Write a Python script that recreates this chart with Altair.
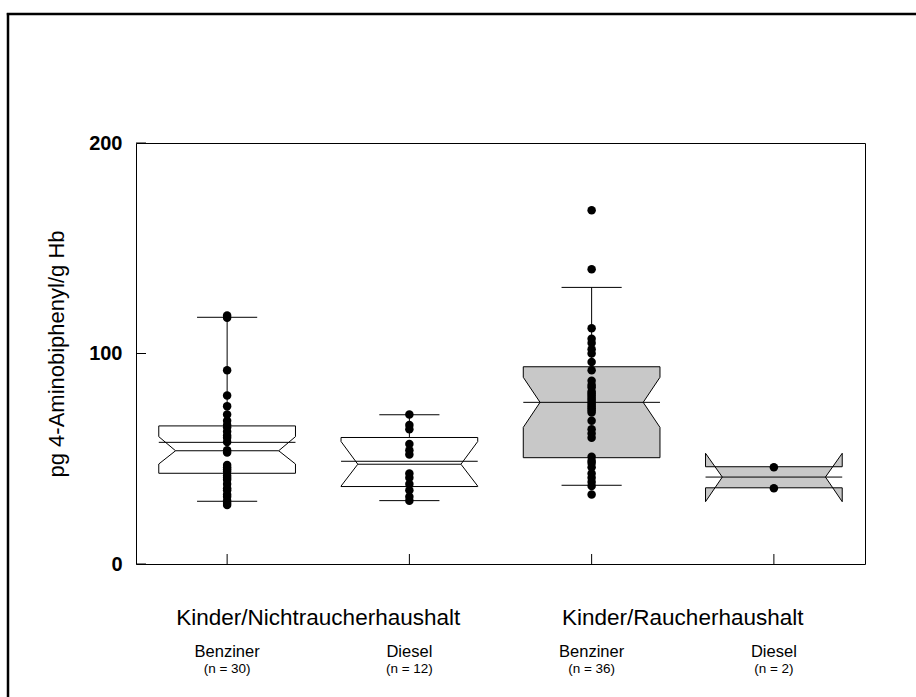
import altair as alt
import pandas as pd

# ---------------- data ----------------
categories = ["Benziner", "Diesel", "Benziner", "Diesel"]
n_labels = ["(n = 30)", "(n = 12)", "(n = 36)", "(n = 2)"]
households = ["Kinder/Nichtraucherhaushalt", "Kinder/Nichtraucherhaushalt",
              "Kinder/Raucherhaushalt", "Kinder/Raucherhaushalt"]
smoker = [False, False, True, True]

q1 = [43.1, 36.8, 50.5, 36.2]
median = [53.8, 47.4, 76.8, 41.3]
q3 = [65.6, 60.1, 93.7, 46.2]
mean = [57.8, 48.8, 76.8, 41.3]
notch_lo = [47.5, 37.0, 64.9, 29.6]
notch_hi = [60.5, 58.2, 88.7, 52.6]
whisker_lo = [29.8, 30.1, 37.4, None]
whisker_hi = [117.2, 70.9, 131.4, None]

vals_nr_benziner = [118, 117, 92, 80, 75, 71, 68, 66, 65, 63, 61, 60, 58, 54, 53,
                    47, 46, 45, 44, 42, 41, 40, 38, 36, 35, 33, 32, 30, 29, 28]
vals_nr_diesel = [71, 66, 64, 57, 54, 52, 43, 41, 38, 35, 32, 30]
vals_r_benziner = [168, 140, 112, 107, 105, 102, 100, 96, 92, 87, 85, 84, 82, 81,
                   80, 79, 78, 77, 76, 75, 74, 73, 72, 68, 64, 62, 60, 51, 49, 48,
                   46, 43, 41, 39, 37, 33]
vals_r_diesel = [46, 36]

y_ticks = [0, 100, 200]
y_title = "pg 4-Aminobiphenyl/g Hb"

# ---------------- style ----------------
FONT = "Liberation Sans"
HALF = 0.375   # half box width (in category units)
NOTCH = 0.092  # notch indent
CAP = 0.165    # whisker cap half width
W, H = 729, 421

positions = [i + 1 for i in range(4)]
all_vals = [vals_nr_benziner, vals_nr_diesel, vals_r_benziner, vals_r_diesel]

# notched box polygons
poly_rows = []
for i, p in enumerate(positions):
    L, R = p - HALF, p + HALF
    pts = [(L, q3[i]), (L, notch_hi[i]), (L + NOTCH, median[i]), (L, notch_lo[i]),
           (L, q1[i]), (R, q1[i]), (R, notch_lo[i]), (R - NOTCH, median[i]),
           (R, notch_hi[i]), (R, q3[i]), (L, q3[i])]
    for k, (x, y) in enumerate(pts):
        poly_rows.append({"box": i, "k": k, "x": x, "y": y, "shaded": smoker[i]})
poly = pd.DataFrame(poly_rows)

# horizontal segments: mean lines, median lines, whisker caps
seg_rows = []
vseg_rows = []
for i, p in enumerate(positions):
    seg_rows.append({"x": p - HALF, "x2": p + HALF, "y": mean[i]})
    if abs(mean[i] - median[i]) > 0.05:
        seg_rows.append({"x": p - HALF + NOTCH, "x2": p + HALF - NOTCH, "y": median[i]})
    if whisker_hi[i] is not None:
        seg_rows.append({"x": p - CAP, "x2": p + CAP, "y": whisker_hi[i]})
        seg_rows.append({"x": p - CAP, "x2": p + CAP, "y": whisker_lo[i]})
        vseg_rows.append({"x": p, "y": q3[i], "y2": whisker_hi[i]})
        vseg_rows.append({"x": p, "y": q1[i], "y2": whisker_lo[i]})
segs = pd.DataFrame(seg_rows)
vsegs = pd.DataFrame(vseg_rows)

pts = pd.DataFrame([{"x": positions[i], "y": v} for i in range(4) for v in all_vals[i]])

cat_df = pd.DataFrame({"x": positions, "cat": categories, "n": n_labels})
hh_df = (pd.DataFrame({"x": positions, "hh": households})
         .groupby("hh", as_index=False)["x"].mean())
ytick_df = pd.DataFrame({"y": y_ticks})

xscale = alt.Scale(domain=[0.5, 4.5], nice=False, zero=False)
yscale = alt.Scale(domain=[0, 200], nice=False, zero=False)
xaxis = alt.Axis(labels=False, ticks=False, domain=False, grid=False, title=None)
yaxis = alt.Axis(values=y_ticks, labels=True, ticks=False, domain=False, grid=False,
                 title=y_title, labelFont=FONT, labelFontSize=20, labelFontWeight="bold",
                 labelColor="black", labelPadding=14,
                 titleFont=FONT, titleFontSize=22, titleFontWeight="normal", titleColor="black",
                 titleAngle=270, titleX=-80, titleY=H / 2, titleAlign="center",
                 titleBaseline="middle")


def X(f="x"):
    return alt.X(f, type="quantitative", scale=xscale, axis=xaxis)


def Y(f="y"):
    return alt.Y(f, type="quantitative", scale=yscale, axis=yaxis)


whisk_v = alt.Chart(vsegs).mark_rule(color="black", strokeWidth=1).encode(
    x=X(), y=Y(), y2="y2")

box_white = alt.Chart(poly).transform_filter("!datum.shaded").mark_line(
    fill="white", stroke="black", strokeWidth=1).encode(
    x=X(), y=Y(), detail="box:N", order="k:Q")
box_gray = alt.Chart(poly).transform_filter("datum.shaded").mark_line(
    fill="#c8c8c8", stroke="black", strokeWidth=1).encode(
    x=X(), y=Y(), detail="box:N", order="k:Q")

hsegs = alt.Chart(segs).mark_rule(color="black", strokeWidth=1).encode(
    x=X(), x2="x2", y=Y())

dots = alt.Chart(pts).mark_circle(color="black", opacity=1, size=72).encode(
    x=X(), y=Y())

yt = alt.Chart(ytick_df).mark_rule(color="black", strokeWidth=1).encode(
    y=Y(), x=alt.value(0), x2=alt.value(10))
xt = alt.Chart(cat_df).mark_rule(color="black", strokeWidth=1).encode(
    x=X(), y=alt.value(H), y2=alt.value(H - 10))

hh_text = alt.Chart(hh_df).mark_text(font=FONT, fontSize=22.5, color="black",
                                     align="center", baseline="middle").encode(
    x=X(), y=alt.value(475), text="hh:N")
cat_text = alt.Chart(cat_df).mark_text(font=FONT, fontSize=16.5, color="black",
                                       align="center", baseline="middle").encode(
    x=X(), y=alt.value(509), text="cat:N")
n_text = alt.Chart(cat_df).mark_text(font=FONT, fontSize=13.5, color="black",
                                     align="center", baseline="middle").encode(
    x=X(), y=alt.value(526), text="n:N")

one = pd.DataFrame({"a": [0]})
border_left = alt.Chart(one).mark_rule(color="black", strokeWidth=2.5).encode(
    x=alt.value(-128), y=alt.value(-130), y2=alt.value(H + 200))
border_top = alt.Chart(one).mark_rule(color="black", strokeWidth=2.5).encode(
    y=alt.value(-129), x=alt.value(-129.2), x2=alt.value(W + 200))

chart = alt.layer(
    whisk_v, box_white, box_gray, hsegs, dots, yt, xt,
    hh_text, cat_text, n_text, border_left, border_top
).properties(
    width=W, height=H,
    padding={"left": 136, "top": 143, "right": 51, "bottom": 133},
    autosize=alt.AutoSizeParams(type="none"),
    background="white",
).configure_view(stroke="black", strokeWidth=1)

chart.save("out.html", embed_options={"renderer": "svg", "actions": False})
